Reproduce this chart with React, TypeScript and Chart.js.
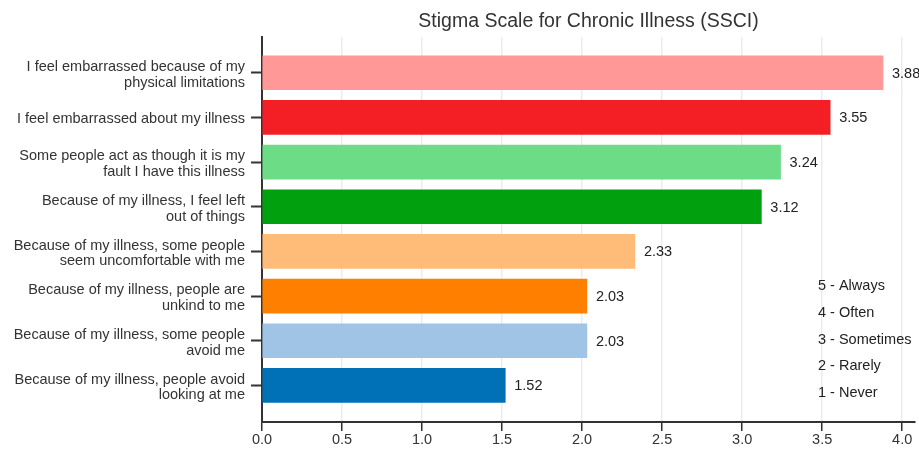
import React, { useEffect, useRef } from "react";
import { Chart, registerables } from "chart.js";

Chart.register(...registerables);

const categories: string[][] = [
  ["I feel embarrassed because of my", "physical limitations"],
  ["I feel embarrassed about my illness"],
  ["Some people act as though it is my", "fault I have this illness"],
  ["Because of my illness, I feel left", "out of things"],
  ["Because of my illness, some people", "seem uncomfortable with me"],
  ["Because of my illness, people are", "unkind to me"],
  ["Because of my illness, some people", "avoid me"],
  ["Because of my illness, people avoid", "looking at me"],
];
const values: number[] = [3.88, 3.55, 3.24, 3.12, 2.33, 2.03, 2.03, 1.52];
const barColors: string[] = [
  "#FF9896",
  "#F41F25",
  "#6CDD86",
  "#00A00F",
  "#FFBB78",
  "#FF7F00",
  "#A0C4E6",
  "#0071B6",
];
const scaleNotes: string[] = ["5 - Always", "4 - Often", "3 - Sometimes", "2 - Rarely", "1 - Never"];
const titleText = "Stigma Scale for Chronic Illness (SSCI)";

const FONT = "Arial, 'Liberation Sans', sans-serif";
const FS = 14.5;

export default function App() {
  const ref = useRef<HTMLCanvasElement | null>(null);

  useEffect(() => {
    document.body.style.margin = "0";
    const canvas = ref.current;
    if (!canvas) return;

    const overlay = {
      id: "overlay",
      afterDatasetsDraw(chart: any) {
        const ctx = chart.ctx;
        const area = chart.chartArea;
        ctx.save();
        // value labels
        ctx.font = `${FS}px ${FONT}`;
        ctx.fillStyle = "#222";
        ctx.textAlign = "left";
        ctx.textBaseline = "middle";
        const meta = chart.getDatasetMeta(0);
        meta.data.forEach((bar: any, i: number) => {
          ctx.fillText(values[i].toFixed(2), bar.x + 9, bar.y + 1);
        });
        // title
        ctx.font = `19.5px ${FONT}`;
        ctx.fillStyle = "#333";
        ctx.textAlign = "center";
        ctx.fillText(titleText, (area.left + area.right) / 2, 22);
        // scale notes
        ctx.font = `${FS}px ${FONT}`;
        ctx.fillStyle = "#222";
        ctx.textAlign = "left";
        scaleNotes.forEach((t, i) => {
          ctx.fillText(t, area.right - 97, area.top + 249 + i * 26.8);
        });
        ctx.restore();
      },
    };

    const chart = new Chart(canvas, {
      type: "bar",
      data: {
        datasets: [
          {
            data: values.map((v, i) => ({ x: v, y: i })),
            backgroundColor: barColors,
            borderWidth: 0,
            barThickness: 34,
          } as any,
        ],
      },
      options: {
        indexAxis: "y",
        animation: false,
        responsive: false,
        maintainAspectRatio: false,
        layout: { padding: { top: 37, right: 4, left: 0, bottom: 0 } },
        plugins: {
          legend: { display: false },
          tooltip: { enabled: false },
          title: { display: false },
        },
        scales: {
          x: {
            type: "linear",
            position: "bottom",
            min: 0,
            max: 4.08,
            offset: false,
            border: { display: true, color: "#333", width: 2 },
            grid: {
              offset: false,
              color: "#ececec",
              lineWidth: 1.5,
              drawTicks: true,
              tickLength: 9,
              tickColor: "#333",
              tickWidth: 1.5,
            },
            ticks: {
              stepSize: 0.5,
              includeBounds: false,
              padding: 0,
              color: "#333",
              font: { family: FONT, size: FS },
              callback: (v: any) => Number(v).toFixed(1),
              maxRotation: 0,
            },
            afterFit: (s: any) => {
              s.height = 27;
            },
          },
          y: {
            type: "linear",
            reverse: true,
            min: -0.8,
            max: 7.82,
            offset: false,
            border: { display: true, color: "#333", width: 2 },
            grid: {
              offset: false,
              drawOnChartArea: false,
              drawTicks: true,
              tickLength: 11,
              tickColor: "#333",
              tickWidth: 2,
            },
            afterBuildTicks: (s: any) => {
              s.ticks = categories.map((_, i) => ({ value: i }));
            },
            ticks: {
              padding: 6,
              labelOffset: 2,
              color: "#333",
              font: { family: FONT, size: FS, lineHeight: 1.08 },
              autoSkip: false,
              callback: (v: any) => categories[Math.round(Number(v))] ?? "",
            },
            afterFit: (s: any) => {
              s.width = 262;
            },
          },
        },
      } as any,
      plugins: [overlay],
    });

    return () => chart.destroy();
  }, []);

  return (
    <div style={{ width: 919, height: 449 }}>
      <canvas ref={ref} width={919} height={449} style={{ display: "block" }} />
    </div>
  );
}
